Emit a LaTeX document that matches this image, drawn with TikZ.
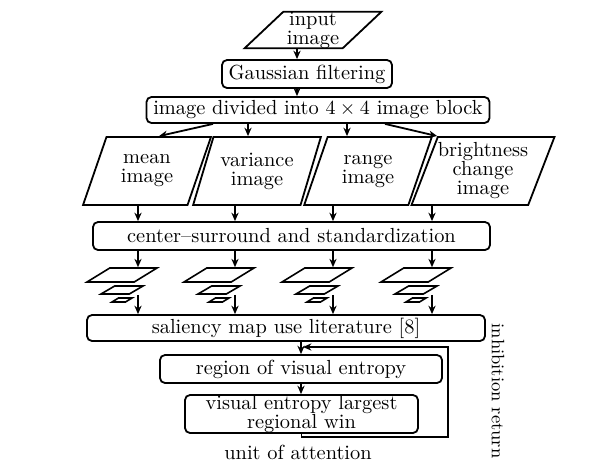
\documentclass[tikz,border=0pt]{standalone}
\usetikzlibrary{shapes.geometric,arrows.meta}
\begin{document}
\begin{tikzpicture}[x=0.5pt,y=-0.5pt,
		font=\fontsize{10.2}{9.5}\selectfont,
		box/.style={draw, rounded corners=2.5pt, line width=0.9pt, inner sep=0, minimum height=14pt, align=center},
		para/.style={draw, trapezium, trapezium left angle=65, trapezium right angle=115, trapezium stretches, line width=0.9pt, inner sep=0, minimum width=64pt, minimum height=34pt, align=center},
		plane/.style={draw, trapezium, trapezium left angle=47, trapezium right angle=133, trapezium stretches, line width=0.8pt, inner sep=0.4pt},
		arr/.style={-{Stealth[length=4.2pt,width=3.6pt]}, line width=0.9pt}]
			\useasboundingbox (0,0) rectangle (616,461);
			\node (in) [draw, trapezium, trapezium left angle=47, trapezium right angle=133, trapezium stretches, line width=0.9pt, inner sep=0, minimum width=68.5pt, minimum height=17pt, align=center] at (313,30) {input\\image};
			\node (gauss) [box, minimum width=85pt] at (307,74) {Gaussian filtering};
			\node (div) [box, minimum width=171.5pt, minimum height=13pt] at (318,110) {image divided into $4\times4$ image block};
			\node (img1) [para] at (147,171) {mean\\image};
			\node (img2) [para] at (257,171) {variance\\image};
			\node (img3) [para] at (368,171) {range\\image};
			\node (img4) [para, minimum width=67pt] at (483,171) {brightness\\change\\image};
			\node (cs) [box, minimum width=198.5pt] at (291.5,236) {center--surround and standardization};
			\node (sal) [box, minimum width=199pt, minimum height=13pt] at (286,328) {saliency map use literature [8]};
			\node (ent) [box, minimum width=141pt] at (301,369) {region of visual entropy};
			\node (vis) [box, minimum width=116.5pt, minimum height=19pt] at (301.5,414) {visual entropy largest\\regional win};
			\node (unit) at (298,452) {unit of attention};
			\node (inhib) [rotate=-90, font=\fontsize{9}{9}\selectfont] at (498,391) {inhibition return};
			\coordinate (a0) at (297,0);
			\coordinate (d1) at (213,0);
			\coordinate (d2) at (248,0);
			\coordinate (d3) at (347,0);
			\coordinate (d4) at (385,0);
			\coordinate (fb1) at (448,437);
			\coordinate (fb2) at (303,347);
			\draw[arr] (a0 |- in.south) -- (a0 |- gauss.north);
			\draw[arr] (a0 |- gauss.south) -- (a0 |- div.north);
			\draw[arr] (d1 |- div.south) -- (img1.top side);
			\draw[arr] (d2 |- div.south) -- (d2 |- img2.north);
			\draw[arr] (d3 |- div.south) -- (d3 |- img3.north);
			\draw[arr] (d4 |- div.south) -- (img4.top left corner);
			\foreach \c [count=\i] in {138,235,333,432} {
				\coordinate (k\i) at (\c,0);
				\node (L\i) [plane, minimum width=35pt, minimum height=7pt] at (\c-16,275) {};
				\node (M\i) [plane, minimum width=21pt, minimum height=4pt] at (\c-16,290) {};
				\node (S\i) [plane, minimum width=10pt, minimum height=2pt] at (\c-16,300) {};
				\draw[arr] (k\i |- img\i.south) -- (k\i |- cs.north);
				\draw[arr] (k\i |- cs.south) -- (k\i |- L\i.north);
				\draw[arr] (k\i |- M\i.south) -- (k\i |- sal.north);
			}
			\draw[arr] (sal.south -| ent.north) -- (ent.north);
			\draw[arr] (ent.south) -- (ent.south |- vis.north);
			\draw[arr] (vis.south) |- (fb1) |- (fb2);

		\end{tikzpicture}
\end{document}
